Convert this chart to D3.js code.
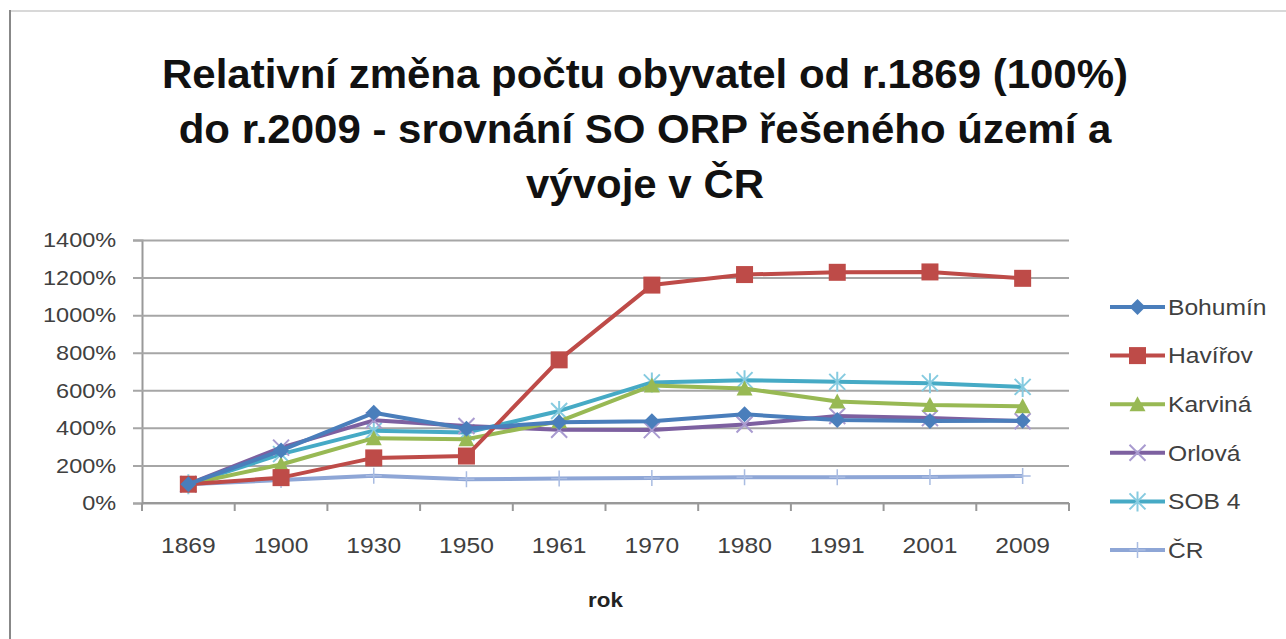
<!DOCTYPE html>
<html>
<head>
<meta charset="utf-8">
<script src="https://cdn.jsdelivr.net/npm/d3@7"></script>
<style>
  body { margin: 0; background: #fff; }
  text { font-family: "Liberation Sans", Arial, sans-serif; }
</style>
</head>
<body>
<div id="chart"></div>
<script>
// Data
const years = ["1869", "1900", "1930", "1950", "1961", "1970", "1980", "1991", "2001", "2009"];
const bohumin = [100, 280, 480, 395, 430, 435, 472, 442, 437, 438];
const havirov = [100, 135, 240, 250, 762, 1160, 1216, 1228, 1230, 1196];
const karvina = [100, 205, 345, 340, 435, 625, 610, 540, 522, 515];
const orlova = [100, 295, 440, 410, 390, 388, 418, 463, 452, 435];
const sob4 = [100, 260, 385, 375, 490, 642, 654, 645, 638, 618];
const cr = [100, 122, 145, 127, 130, 133, 137, 137, 138, 144];
const yTicks = [0, 200, 400, 600, 800, 1000, 1200, 1400];
const titleLines = [
    "Relativní změna počtu obyvatel od r.1869 (100%)",
    "do r.2009 - srovnání SO ORP řešeného území a",
    "vývoje v ČR"
];

const series = [
    { name: "Bohumín", values: bohumin, color: "#4A7EBB", marker: "diamond" },
    { name: "Havířov", values: havirov, color: "#BE4B48", marker: "square" },
    { name: "Karviná", values: karvina, color: "#98B954", marker: "triangle" },
    { name: "Orlová", values: orlova, color: "#7D60A0", marker: "x" },
    { name: "SOB  4", values: sob4, color: "#46AAC5", marker: "star" },
    { name: "ČR", values: cr, color: "#8EA6D6", marker: "plus" }
];

const W = 1286, H = 639;
const plot = { left: 142, right: 1069, top: 240, bottom: 503 };
const stretch = 1.12; // source text is a bit wider than Liberation Sans

const svg = d3.select("#chart").append("svg")
    .attr("width", W)
    .attr("height", H);

// outer frame (only top and left edges visible)
svg.append("line").attr("x1", 10).attr("x2", W).attr("y1", 11).attr("y2", 11)
    .attr("stroke", "#d8d8d8").attr("stroke-width", 2);
svg.append("line").attr("x1", 10).attr("x2", 10).attr("y1", 10).attr("y2", H)
    .attr("stroke", "#888").attr("stroke-width", 2);

// title
titleLines.forEach((t, i) => {
    svg.append("g")
        .attr("transform", `translate(645,${88 + i * 55}) scale(1.05,1)`)
        .append("text")
        .attr("text-anchor", "middle")
        .attr("font-size", 40)
        .attr("font-weight", "bold")
        .attr("fill", "#111")
        .text(t);
});

// scales
const x = d3.scaleBand()
    .domain(years)
    .range([plot.left, plot.right]);

const y = d3.scaleLinear()
    .domain([0, 1400])
    .range([plot.bottom, plot.top]);

// gridlines + y axis
const yAxis = svg.append("g")
    .attr("transform", `translate(${plot.left},0)`)
    .call(d3.axisLeft(y).tickValues(yTicks).tickSize(9).tickPadding(14)
        .tickFormat(d => d + "%"));
yAxis.select(".domain").attr("stroke", "#999").attr("stroke-width", 2);
yAxis.selectAll(".tick line")
    .attr("x2", plot.right - plot.left)
    .attr("x1", -9)
    .attr("stroke", "#a6a6a6").attr("stroke-width", 2);
yAxis.selectAll(".tick text")
    .attr("font-size", 21)
    .attr("fill", "#404040")
    .attr("transform", `scale(${stretch},1)`);

// x axis
const xAxis = svg.append("g")
    .attr("transform", `translate(0,${plot.bottom})`)
    .call(d3.axisBottom(x).tickSize(0).tickPadding(34));
xAxis.select(".domain").remove();
xAxis.selectAll(".tick text")
    .attr("font-size", 22)
    .attr("fill", "#404040")
    .attr("transform", `scale(${stretch},1)`);
xAxis.append("line")
    .attr("x1", plot.left).attr("x2", plot.right)
    .attr("stroke", "#999").attr("stroke-width", 2);
xAxis.selectAll(".bound")
    .data(years.map(d => x(d)).concat([plot.right]))
    .enter().append("line")
    .attr("class", "bound")
    .attr("x1", d => d).attr("x2", d => d)
    .attr("y1", 0).attr("y2", 8)
    .attr("stroke", "#999").attr("stroke-width", 2);

svg.append("g")
    .attr("transform", `translate(${(plot.left + plot.right) / 2},607) scale(${stretch},1)`)
    .append("text")
    .attr("text-anchor", "middle")
    .attr("font-size", 20)
    .attr("font-weight", "bold")
    .attr("fill", "#222")
    .text("rok");

const cx = i => x(years[i]) + x.bandwidth() / 2;

function drawMarker(g, type, color) {
    if (type === "diamond") {
        g.append("path").attr("d", "M0,-8L8,0L0,8L-8,0Z").attr("fill", color);
    } else if (type === "square") {
        g.append("rect").attr("x", -8.5).attr("y", -8.5).attr("width", 17).attr("height", 17)
            .attr("fill", color);
    } else if (type === "triangle") {
        g.append("path").attr("d", "M0,-8L8,7L-8,7Z").attr("fill", color);
    } else if (type === "x") {
        g.append("path").attr("d", "M-8,-8L8,8M8,-8L-8,8")
            .attr("stroke", "#A99BD0").attr("stroke-width", 2);
    } else if (type === "star") {
        g.append("path").attr("d", "M-8,-8L8,8M8,-8L-8,8M0,-10L0,10")
            .attr("stroke", "#86CBE0").attr("stroke-width", 2);
    } else if (type === "plus") {
        g.append("path").attr("d", "M0,-8L0,8M-8,0L8,0")
            .attr("stroke", "#A9BCE2").attr("stroke-width", 1.5);
    }
}

const line = d3.line()
    .x((d, i) => cx(i))
    .y(d => y(d));

// draw lines in reverse so Bohumín ends on top
const drawOrder = series.slice().reverse();
drawOrder.forEach(s => {
    svg.append("path")
        .datum(s.values)
        .attr("fill", "none")
        .attr("stroke", s.color)
        .attr("stroke-width", 4)
        .attr("stroke-linejoin", "round")
        .attr("d", line);
    s.values.forEach((v, i) => {
        const g = svg.append("g").attr("transform", `translate(${cx(i)},${y(v)})`);
        drawMarker(g, s.marker, s.color);
    });
});

// legend
const legend = svg.append("g");
series.forEach((s, i) => {
    const ly = 307 + i * 48.6;
    legend.append("line")
        .attr("x1", 1110).attr("x2", 1165)
        .attr("y1", ly).attr("y2", ly)
        .attr("stroke", s.color).attr("stroke-width", 4);
    const g = legend.append("g").attr("transform", `translate(1137.5,${ly})`);
    drawMarker(g, s.marker, s.color);
    legend.append("g")
        .attr("transform", `translate(1168,${ly}) scale(${stretch},1)`)
        .append("text")
        .attr("dy", "0.35em")
        .attr("font-size", 22)
        .attr("fill", "#404040")
        .text(s.name);
});
</script>
</body>
</html>
